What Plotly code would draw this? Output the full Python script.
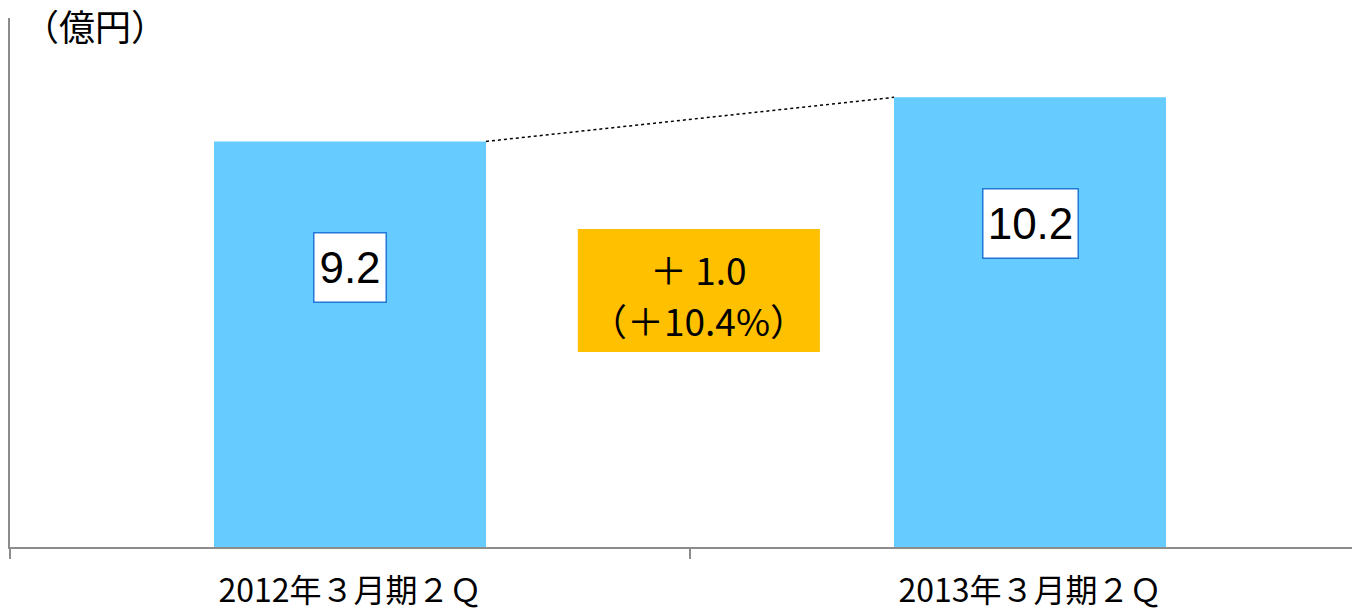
import plotly.graph_objects as go

categories = ["2012年３月期２Ｑ", "2013年３月期２Ｑ"]
values = [9.2, 10.2]
value_labels = ["9.2", "10.2"]
change_lines = ["＋ 1.0", "（＋10.4%）"]
unit_label = "（億円）"

BAR_W = 0.4
CJK = "Noto Sans CJK JP, Noto Sans, sans-serif"
NUM = "Liberation Sans Narrow, Liberation Sans, Arial, sans-serif"
AXIS_GREY = "#8c8c8c"

W, H = 1352, 612
ML, MR, MT, MB = 10, 0, 18, 65
PLOT_H = H - MT - MB
YMAX = 12
PX_PER_UNIT = PLOT_H / YMAX


def px_to_y(py):
    """pixel row (from top of figure) -> data y"""
    return (H - MB - py) / PX_PER_UNIT


fig = go.Figure()
fig.add_trace(go.Bar(
    x=categories, y=values, width=BAR_W,
    marker=dict(color="#66CCFF", line=dict(width=0)),
    hoverinfo="skip", showlegend=False,
))

# dotted connector between bar tops
fig.add_shape(type="line", xref="x", yref="y",
              x0=0 + BAR_W / 2, y0=values[0], x1=1 - BAR_W / 2, y1=values[1],
              line=dict(color="black", width=1.5, dash="dot"))

# value boxes
for i, (v, t) in enumerate(zip(values, value_labels)):
    w = 71 if len(t) <= 3 else 94
    fig.add_annotation(x=i, y=v, xref="x", yref="y", text=t, showarrow=False,
                       yanchor="middle", yshift=-126.5,
                       font=dict(family=NUM, size=44, color="black"),
                       bgcolor="white", bordercolor="#1f78d8", borderwidth=1.5,
                       borderpad=0, width=w, height=68)

# change box
fig.add_shape(type="rect", xref="x", yref="y", layer="above",
              x0=0.335, x1=0.691, y0=px_to_y(352), y1=px_to_y(229),
              fillcolor="#FFC000", line=dict(width=0))
for line_text, py in zip(change_lines, [269, 320]):
    fig.add_annotation(x=0.513, y=px_to_y(py), xref="x", yref="y",
                       text=line_text, showarrow=False,
                       xanchor="center", yanchor="middle",
                       font=dict(family=CJK, size=37, color="black"))

# unit label
fig.add_annotation(x=(95 - ML) / (W - ML - MR), y=(H - MB - 25) / PLOT_H,
                   xref="paper", yref="paper", text=unit_label,
                   xanchor="center", yanchor="middle", showarrow=False,
                   font=dict(family=CJK, size=36, color="black"))

fig.update_layout(
    width=W, height=H,
    margin=dict(l=ML, r=MR, t=MT, b=MB, autoexpand=False),
    paper_bgcolor="white", plot_bgcolor="white",
    xaxis=dict(type="category", range=[-0.5, 1.4735], automargin=False,
               showline=True, linecolor=AXIS_GREY, linewidth=2,
               ticks="outside", tickson="boundaries", ticklen=10,
               tickwidth=2, tickcolor=AXIS_GREY, showgrid=False,
               tickfont=dict(family=CJK, size=32, color="black"),
               ticklabelstandoff=15),
    yaxis=dict(range=[0, YMAX], showline=True, linecolor=AXIS_GREY, linewidth=2,
               automargin=False,
               showticklabels=False, ticks="", showgrid=False, zeroline=False),
)

fig.write_html("out.html", config={"displayModeBar": False},
               post_script="document.body.style.margin='0';document.body.style.overflow='hidden';")
